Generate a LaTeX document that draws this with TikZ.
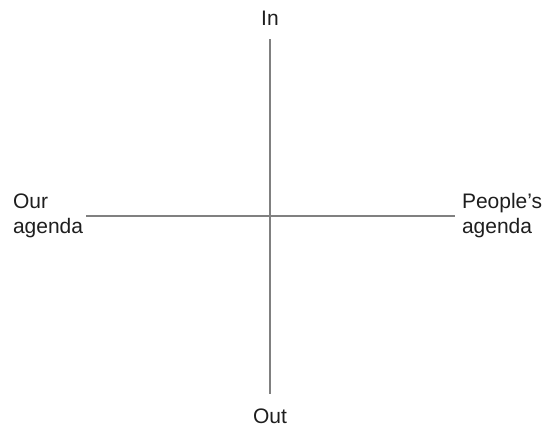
\documentclass[tikz,border=0pt]{standalone}
\usepackage{fontspec}
\setmainfont{Liberation Sans}
\usepackage{xcolor}
\usepackage{tikz}
\usetikzlibrary{positioning}
\definecolor{axisgray}{RGB}{128, 128, 128}
\definecolor{labelgray}{RGB}{30, 30, 30}

\begin{document}
\begin{tikzpicture}[
    x=1bp, y=-1bp,
    label/.style={
      inner sep=0pt, outer sep=0pt, text=labelgray,
      font=\fontsize{21bp}{25bp}\selectfont
    },
    side/.style={label, align=left},
    axis/.style={line width=2.6bp, color=axisgray}
]
  \useasboundingbox (0,0) rectangle (544,427);

  \node[label, anchor=base] (in)  at (270,25)  {In};
  \node[label, anchor=base] (out) at (270,423) {Out};
  \node[side, anchor=west]  (our)    at (13,216)  {Our\\agenda};
  \node[side, anchor=west]  (people) at (462,216) {People's\\agenda};

  \draw[axis, shorten <=14bp, shorten >=14bp] (in) -- (out);
  \draw[axis, shorten <=3bp, shorten >=7bp] (our) -- (people);
\end{tikzpicture}
\end{document}
